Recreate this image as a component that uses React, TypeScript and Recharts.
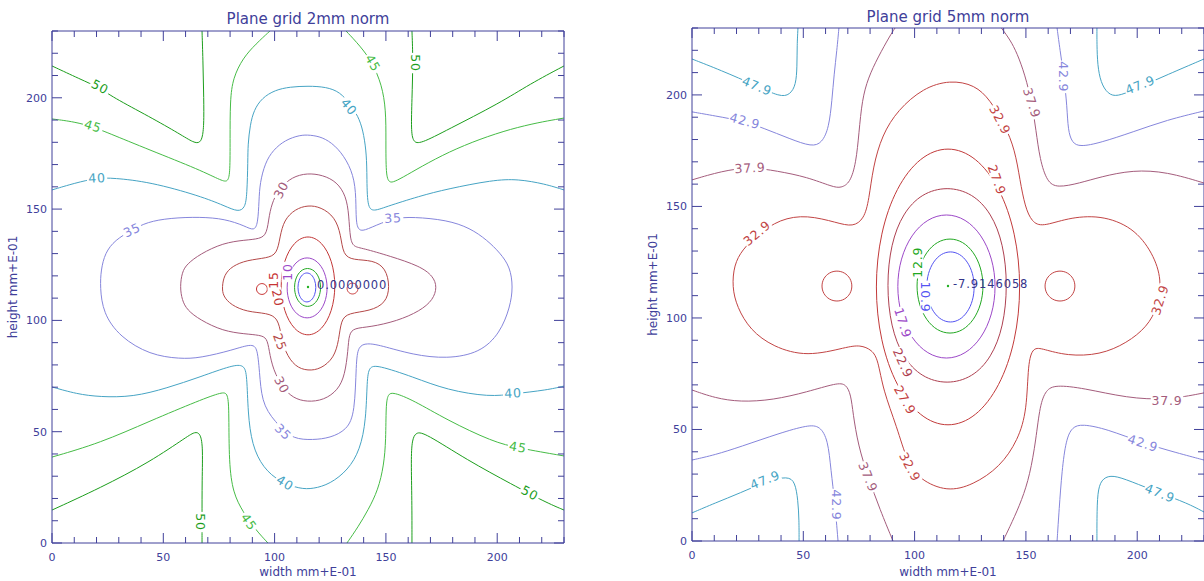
import React from "react"
import { ComposedChart, Line, Scatter, XAxis, YAxis, Label } from "recharts"

type Pt = number[]

// ---- 2mm grid contours, points as [width, height] in mm*E-01
const L50_TL = [[0, 214.3], [12.6, 208.4], [21.6, 204.4], [27, 200.4], [44, 191.4], [57.5, 183.7], [63.8, 179.7], [66.5, 179.7], [67.8, 182.8], [68.3, 190], [68.1, 203.5], [67.8, 217], [67.4, 230]]
const L50_TR = [[161.7, 230], [162.2, 217], [161.7, 199], [161.3, 185.5], [162.2, 180.1], [165.3, 179.2], [177.4, 185.5], [201.3, 197.7], [214.7, 206.2], [230, 214.3]]
const L50_BL = [[0, 14.8], [21.6, 24.7], [44, 36.4], [61.1, 48.1], [64.2, 49.9], [66.5, 49.4], [67.8, 44], [67.4, 28.3], [67.4, 10.3], [67.4, 0]]
const L50_BR = [[161.7, 0], [161.7, 19.3], [161.3, 37.3], [161.7, 46.3], [163.5, 49.9], [167.6, 49.4], [186.4, 37.3], [207.1, 26.1], [221.5, 18.4], [230, 14.8]]

const L45_TL = [[0, 190.5], [10.3, 189.2], [18.4, 186.9], [24.3, 184.6], [44, 176.5], [66.5, 167.6], [76.4, 162.6], [79.1, 162.2], [80, 166.7], [80, 181], [80, 199], [81.3, 208.9], [85.8, 217.9], [91.6, 224.2], [97.9, 230]]
const L45_TR = [[132.1, 230], [138.4, 223.3], [143.8, 216.1], [148.2, 205.8], [150, 194.5], [150, 181], [150, 165.3], [151.4, 161.7], [154.5, 162.2], [177.4, 176.1], [207.1, 186.9], [230, 190.9]]
const L45_BL = [[0, 38.6], [21.6, 44.9], [44, 54.8], [66.5, 64.2], [76.4, 67.8], [79.1, 67.4], [79.5, 58.4], [79.5, 35.9], [81.3, 22.5], [85.8, 13.9], [91.6, 5.8], [97, 0]]
const L45_BR = [[132.5, 0], [137.5, 7.2], [142, 14.8], [146.5, 23.8], [149.1, 35], [150, 46.3], [150, 62], [150.9, 66.9], [153.2, 67.8], [162.2, 64.2], [177.4, 55.3], [198.1, 45.4], [209.3, 42.7], [230, 39.1]]

const L40_TOP = [[0, 158.6], [10.3, 161.7], [20.2, 164], [27.4, 164], [44, 162.2], [66.5, 155.9], [77.7, 151.4], [83.6, 148.7], [86.7, 150.5], [87.6, 156.3], [88, 172], [88, 178.8], [89, 187.8], [90.7, 194.5], [94.3, 199.9], [100.2, 203.5], [106.9, 204.9], [115, 205.3], [123.1, 204.9], [129.4, 202.6], [133.9, 197.2], [137.5, 191.8], [139.7, 185.5], [141.1, 176.5], [141.5, 167.6], [141.5, 151.8], [143.8, 148.7], [149.6, 150.9], [165.3, 155.9], [177.4, 159], [198.1, 163.1], [209.3, 163.5], [221.5, 161.3], [230, 158.6]]
const L40_BOT = [[0, 70.1], [11.2, 66.9], [21.6, 65.6], [36.4, 65.6], [51.7, 69.6], [66.5, 74.6], [81.3, 80], [86.3, 80], [87.6, 75.5], [88, 58.4], [89.8, 44], [94.8, 33.7], [102.4, 27.4], [111.4, 24.3], [117.3, 24.3], [124.9, 26.5], [133, 32.8], [138.4, 41.8], [141.1, 55.3], [141.5, 73.2], [142.4, 79.1], [146, 80], [162.2, 74.6], [177.4, 68.7], [196.8, 65.6], [207.1, 67], [222.4, 68.7], [230, 70.5]]

const L35 = [[21.6, 115], [22, 122.6], [23.8, 130.3], [28.3, 136.1], [35.9, 140.6], [42.7, 144.2], [53, 146], [66.5, 146.5], [77.7, 145.6], [86.7, 142.4], [90.7, 140.2], [92.5, 143.3], [93, 154.1], [93.4, 161.7], [95.7, 170.7], [99.3, 176.5], [104.7, 181], [111.4, 183.3], [115.9, 183.3], [121.3, 182.4], [127.1, 178.8], [132.5, 172], [136.1, 163.1], [136.6, 151.8], [136.6, 142.9], [138.4, 139.7], [142.9, 141.5], [153.2, 146], [162.2, 146.5], [177.4, 145.1], [187.8, 141.5], [195.4, 136.1], [201.3, 130.3], [205.8, 124], [207.1, 115], [205.8, 106], [201.3, 94.3], [192.3, 85.4], [177.4, 82.7], [162.2, 84.5], [147.3, 88.9], [141.5, 89.8], [137.5, 88.5], [136.6, 80.9], [136.1, 58.4], [132.5, 50.8], [124.9, 47.2], [117.3, 46.3], [108.3, 46.7], [102.4, 52.1], [94.8, 61.1], [93.4, 73.2], [92.5, 86.7], [90.3, 89.8], [81.3, 86.7], [66.5, 83.1], [57.5, 82.7], [44, 84.5], [30.5, 92.5], [22.9, 103.3]]
const L30 = [[57.5, 115], [58.4, 121.7], [60.6, 125.3], [66.5, 129.8], [76.8, 134.8], [86.7, 136.1], [93.4, 136.6], [96.6, 138.8], [97.5, 147.3], [99.3, 154.1], [102.4, 159.5], [107.8, 164.4], [114.6, 166.2], [121.7, 165.3], [128, 162.2], [132.1, 155.9], [133.4, 147.3], [133.9, 136.1], [135.7, 133], [139.3, 132.5], [151.8, 128.9], [165.3, 124.4], [171.2, 119.9], [173, 115], [171.2, 109.2], [165.3, 104.2], [155, 99.7], [142.9, 97], [135.7, 96.6], [133.4, 93.9], [133, 86.7], [131.6, 75.5], [128.5, 68.7], [122.2, 64.2], [114.6, 63.3], [108.3, 65.1], [103.8, 69.6], [99.3, 77.7], [97.5, 86.7], [96.6, 92.1], [93.4, 93.4], [86.7, 93.9], [76.8, 95.2], [66.5, 100.2], [60.6, 104.7], [58.4, 109.2]]
const L25 = [[76.4, 115], [77.3, 120.4], [80.9, 124.4], [87.6, 127.1], [96.6, 128], [101.1, 129.8], [102.4, 137.5], [104.2, 145.1], [109.2, 150], [115, 151.8], [120.8, 150.9], [127.1, 146.5], [129.8, 138.4], [130.7, 129.4], [135.2, 127.1], [144.2, 127.1], [150, 123.5], [151.8, 115], [150, 107.8], [142.9, 104.2], [133, 103.3], [129.8, 100.2], [128.9, 91.2], [126.7, 83.1], [120.8, 78.2], [115, 77.3], [109.2, 79.1], [104.7, 85.8], [102.9, 93.4], [101.5, 101.1], [96.6, 103.3], [87.6, 103.8], [80.4, 106.9], [76.8, 111]]
const L20 = [[127.6, 115.5], [125.9, 127], [121.3, 135.4], [115, 138.5], [108.7, 135.4], [104.1, 127], [102.4, 115.5], [104.1, 104], [108.7, 95.6], [115, 92.5], [121.3, 95.6], [125.9, 104]]
const L15_A = [[97, 114.1], [96.2, 116], [94.3, 116.8], [92.4, 116], [91.6, 114.1], [92.4, 112.2], [94.3, 111.4], [96.2, 112.2]]
const L15_B = [[137.7, 114.3], [136.9, 116.2], [135, 117], [133.1, 116.2], [132.3, 114.3], [133.1, 112.4], [135, 111.6], [136.9, 112.4]]
const L10 = [[124, 114.6], [122.7, 121.7], [119.3, 126.8], [114.6, 128.7], [109.9, 126.8], [106.5, 121.7], [105.2, 114.6], [106.5, 107.5], [109.9, 102.4], [114.6, 100.5], [119.3, 102.4], [122.7, 107.5]]
const L5 = [[120.9, 114.8], [120.1, 119.3], [117.9, 122.5], [114.8, 123.7], [111.7, 122.5], [109.5, 119.3], [108.7, 114.8], [109.5, 110.4], [111.7, 107.1], [114.8, 105.9], [117.9, 107.1], [120.1, 110.4]]
const L0 = [[118.7, 114.8], [118.1, 118.2], [116.6, 120.7], [114.5, 121.6], [112.4, 120.7], [110.9, 118.2], [110.3, 114.8], [110.9, 111.4], [112.4, 108.9], [114.5, 108], [116.6, 108.9], [118.1, 111.4]]

// contour labels: [width, height, level, rotation]
const L_TAGS = [
  [21.6, 204.9, "50", 28], [163.1, 215.6, "50", 90], [66.9, 9.4, "50", 90], [214.7, 22.5, "50", 28],
  [18.4, 187.3, "45", 18], [144.2, 215.6, "45", 60], [88.5, 9.5, "45", 55], [209.3, 43.1, "45", 10],
  [20.2, 164, "40", -3], [133.4, 195.9, "40", 50], [104.7, 27, "40", 32], [207.1, 67.4, "40", -3],
  [35.9, 140.6, "35", -25], [153.2, 146, "35", -3], [103.8, 49.9, "35", 45],
  [102.9, 158.6, "30", -62], [103.3, 71, "30", 62],
  [102.4, 90.3, "25", 70], [101.5, 110.1, "20", 78], [99.3, 118.1, "15", -90], [105.6, 121.7, "10", -90],
]
const L_MIN = [115, 115, "0.0000000"]

// ---- 5mm grid contours
const R47_TL = [[0, 216.1], [12.6, 211.2], [29.2, 204], [39.5, 199.1], [44, 200], [46.7, 204.5], [47.2, 212.6], [47.2, 222.4], [47.6, 230]]
const R47_TR = [[181.9, 230], [181.9, 220.2], [182.4, 211.2], [184.2, 204], [187.8, 199.6], [192.3, 199.6], [201.3, 203.6], [213.4, 209], [230, 216.1]]
const R47_BL = [[0, 12.6], [10.3, 17], [21.6, 21.5], [33.7, 26.9], [43.1, 29.1], [46.3, 26.5], [47.6, 18.4], [48.1, 9.4], [48.1, 0]]
const R47_BR = [[181.9, 0], [181.9, 13.9], [182.4, 23.8], [184.6, 28.3], [189.1, 29.6], [196.8, 26.9], [210.2, 21.5], [222.4, 17], [230, 13]]

const R42_TL = [[0, 192.4], [10.3, 190.6], [22.9, 188.3], [31.9, 185.2], [44, 180.3], [53.9, 176.7], [58.4, 178.5], [61.5, 185.2], [62.9, 197.8], [63.8, 209], [65.1, 220.2], [66, 230]]
const R42_TR = [[164, 230], [165.3, 220.2], [167.1, 208.1], [168.5, 194.6], [168.9, 184.3], [170.7, 178.5], [174.3, 176.7], [183.3, 178.5], [198.1, 183.4], [213.4, 188.8], [230, 192.8]]
const R42_BL = [[0, 36.3], [10.3, 38.6], [21.6, 42.2], [39.5, 48.4], [52.1, 52], [57.5, 51.6], [61.1, 45.3], [62.4, 31.8], [64.2, 17], [65.6, 0]]
const R42_BR = [[164, 0], [164.9, 13.9], [166.2, 31.8], [168, 45.3], [170.7, 51.1], [175.2, 52.5], [186.4, 50.2], [202.6, 43.9], [217.9, 39.5], [230, 36.3]]

const R37_TL = [[0, 161.9], [13.5, 165.9], [26.1, 167.7], [38.2, 165.9], [51.7, 163.2], [63.3, 158.7], [66.9, 158.3], [71, 160.5], [73.7, 169.5], [75, 183], [76.4, 197.8], [79.1, 207.6], [83.6, 217], [88.9, 226.5], [91.2, 230]]
const R37_TR = [[139, 230], [142.9, 224.7], [146, 218.8], [149.6, 209], [152.7, 196.4], [154.5, 184.3], [156.3, 170.9], [159.5, 161], [164, 158.3], [174.3, 160.5], [183.3, 163.2], [198.1, 166.4], [213.4, 165.5], [230, 160.5]]
const R37_BL = [[0, 67.7], [10.3, 64.1], [21.6, 62.3], [36.4, 63.2], [51.7, 66.8], [65.1, 70.9], [69.2, 70.4], [71.4, 65.5], [72.3, 57.4], [74.6, 43], [79.1, 28.7], [84.5, 13.9], [90.3, 0]]
const R37_BR = [[139.7, 0], [143.8, 8.5], [148.2, 18.4], [151.8, 29.6], [154.5, 45.3], [156.3, 61], [159, 67.7], [163.1, 70], [175.7, 68.6], [195.4, 64.1], [213.4, 63.2], [230, 66.4]]

const R32 = [[18, 113.9], [18.9, 123.8], [22.5, 130.5], [29.2, 137.2], [39.5, 144.4], [51.7, 146.2], [65.1, 142.7], [72.3, 140.8], [77.3, 144.4], [79.5, 152.9], [81.3, 167.7], [85.4, 182.1], [92.5, 193.3], [103.8, 203.1], [115.9, 206.7], [127.1, 204.5], [133.9, 197.8], [140.6, 186.5], [145.1, 175.3], [147.3, 161.9], [149.6, 149.8], [152.7, 143], [157.2, 140.8], [168.5, 144.8], [183.3, 146.2], [198.1, 140.8], [207.1, 129.1], [211.1, 117], [209.3, 104.9], [204.4, 96], [195.4, 88.8], [183.3, 83.4], [168.5, 83], [157.7, 86.1], [153.2, 87], [150.9, 79.8], [150.5, 58.7], [146.5, 45.3], [138.4, 33.2], [126.2, 25.1], [114.6, 22], [102.4, 27.4], [96.6, 35.4], [92.1, 51.1], [85.8, 67.7], [83.6, 81.2], [80.9, 85.7], [75.5, 87.9], [69.6, 87], [51.7, 82.5], [36.4, 87], [26.1, 94.6], [20.2, 104.9]]
const R32_A = [[72.1, 114.3], [71.2, 117.8], [68.6, 120.4], [65.1, 121.3], [61.6, 120.4], [59, 117.8], [58.1, 114.3], [59, 110.8], [61.6, 108.2], [65.1, 107.3], [68.6, 108.2], [71.2, 110.8]]
const R32_B = [[172.3, 114.3], [171.4, 117.8], [168.8, 120.4], [165.3, 121.3], [161.8, 120.4], [159.2, 117.8], [158.3, 114.3], [159.2, 110.8], [161.8, 108.2], [165.3, 107.3], [168.8, 108.2], [171.4, 110.8]]
const R27 = [[148, 113.9], [145.5, 138.2], [138.3, 158.7], [127.6, 172.5], [115, 177.3], [102.4, 172.5], [91.7, 158.7], [84.5, 138.2], [82, 113.9], [84.5, 89.6], [91.7, 69.1], [102.4, 55.3], [115, 50.5], [127.6, 55.3], [138.3, 69.1], [145.5, 89.6]]
const R22 = [[141.8, 114.6], [139.9, 133.2], [134.5, 147], [126, 155.9], [114.6, 159], [103.2, 155.9], [94.7, 147], [89.3, 133.2], [87.4, 114.6], [89.3, 96], [94.7, 82.2], [103.2, 73.3], [114.6, 70.2], [126, 73.3], [134.5, 82.2], [139.9, 96]]
const R17 = [[136.7, 114.1], [135, 126.7], [130.1, 137.4], [122.9, 144.5], [114.3, 147], [105.7, 144.5], [98.5, 137.4], [93.6, 126.7], [91.9, 114.1], [93.6, 101.5], [98.5, 90.8], [105.7, 83.7], [114.3, 81.2], [122.9, 83.7], [130.1, 90.8], [135, 101.5]]
const R12 = [[131.1, 114.3], [129.9, 122.6], [126.6, 129.6], [121.7, 134.3], [115.9, 135.9], [110.1, 134.3], [105.2, 129.6], [101.9, 122.6], [100.7, 114.3], [101.9, 106], [105.2, 99], [110.1, 94.3], [115.9, 92.7], [121.7, 94.3], [126.6, 99], [129.9, 106]]
const R10 = [[127, 113.9], [126.2, 120.1], [123.8, 125.3], [120.3, 128.8], [116.1, 130], [111.9, 128.8], [108.4, 125.3], [106, 120.1], [105.2, 113.9], [106, 107.7], [108.4, 102.5], [111.9, 99], [116.1, 97.8], [120.3, 99], [123.8, 102.5], [126.2, 107.7]]

const R_TAGS = [
  [29.2, 204, "47.9", 22], [201.3, 204.5, "47.9", -22], [32.8, 27.4, "47.9", -22], [210.2, 21.5, "47.9", 22],
  [23.8, 188.3, "42.9", 15], [166.7, 208.1, "42.9", 90], [65.1, 16.1, "42.9", 90], [202.6, 43.9, "42.9", 18],
  [26.1, 167.3, "37.9", -3], [152.7, 196.4, "37.9", 72], [79.1, 28.7, "37.9", 68], [213.4, 63.2, "37.9", 0],
  [29.2, 138.1, "32.9", -40], [138.4, 188.8, "32.9", 62], [210.2, 108.1, "32.9", -72], [97.9, 33.2, "32.9", 62],
  [137, 161.9, "27.9", 70], [95.7, 63.2, "27.9", 60], [94.8, 79.8, "22.9", 65], [94.8, 97.8, "17.9", 72],
  [101.5, 125, "12.9", -90], [105, 109.4, "10.9", 90],
]
const R_MIN = [115, 114.3, "-7.9146058"]

const TICKS = [0, 10, 20, 30, 40, 50, 60, 70, 80, 90, 100, 110, 120, 130, 140, 150, 160, 170, 180, 190, 200, 210, 220, 230]

const L_COLORS: Record<string, string> = {
  "50": "#1c9e1c", "45": "#46bc46", "40": "#46a4c4", "35": "#8686dc", "30": "#a45c7c",
  "25": "#b44848", "20": "#c23636", "15": "#c83434", "10": "#9c48c8", "5": "#22a822", "0": "#5454f2",
}
const R_COLORS: Record<string, string> = {
  "47.9": "#46a4c4", "42.9": "#8686dc", "37.9": "#a45c7c", "32.9": "#c24444", "27.9": "#c23a3a",
  "22.9": "#ae4050", "17.9": "#9c48c8", "12.9": "#22a822", "10.9": "#5454f2",
}

const L_CURVES: [Pt[], string, boolean][] = [
  [L50_TL, "50", false], [L50_TR, "50", false], [L50_BL, "50", false], [L50_BR, "50", false],
  [L45_TL, "45", false], [L45_TR, "45", false], [L45_BL, "45", false], [L45_BR, "45", false],
  [L40_TOP, "40", false], [L40_BOT, "40", false],
  [L35, "35", true], [L30, "30", true], [L25, "25", true], [L20, "20", true],
  [L15_A, "15", true], [L15_B, "15", true], [L10, "10", true], [L5, "5", true], [L0, "0", true],
]
const R_CURVES: [Pt[], string, boolean][] = [
  [R47_TL, "47.9", false], [R47_TR, "47.9", false], [R47_BL, "47.9", false], [R47_BR, "47.9", false],
  [R42_TL, "42.9", false], [R42_TR, "42.9", false], [R42_BL, "42.9", false], [R42_BR, "42.9", false],
  [R37_TL, "37.9", false], [R37_TR, "37.9", false], [R37_BL, "37.9", false], [R37_BR, "37.9", false],
  [R32, "32.9", true], [R32_A, "32.9", true], [R32_B, "32.9", true], [R27, "27.9", true],
  [R22, "22.9", true], [R17, "17.9", true], [R12, "12.9", true], [R10, "10.9", true],
]

const AXIS = "#40409a"
const FONT = "DejaVu Sans, sans-serif"
const W = 600
const H = 581

const rows = (pts: Pt[]) => pts.map(([x, y]) => ({ x, y }))

// inward ticks: every 10 units, longer with a label every 50
const BottomTick = (p: any) => {
  const v = p.payload.value
  const major = v % 50 === 0
  return (
    <g>
      <line x1={p.x} y1={p.y} x2={p.x} y2={p.y - (major ? 10 : 6)} stroke={AXIS} />
      {major && (
        <text x={p.x} y={p.y + 18} textAnchor="middle" fontSize={11} fontFamily={FONT} fill={AXIS}>{v}</text>
      )}
    </g>
  )
}
const TopTick = (p: any) => {
  const major = p.payload.value % 50 === 0
  return <line x1={p.x} y1={p.y} x2={p.x} y2={p.y + (major ? 10 : 6)} stroke={AXIS} />
}
const LeftTick = (p: any) => {
  const v = p.payload.value
  const major = v % 50 === 0
  return (
    <g>
      <line x1={p.x} y1={p.y} x2={p.x + (major ? 10 : 6)} y2={p.y} stroke={AXIS} />
      {major && (
        <text x={p.x - 5} y={p.y + 4} textAnchor="end" fontSize={11} fontFamily={FONT} fill={AXIS}>{v}</text>
      )}
    </g>
  )
}
const RightTick = (p: any) => {
  const major = p.payload.value % 50 === 0
  return <line x1={p.x} y1={p.y} x2={p.x - (major ? 10 : 6)} y2={p.y} stroke={AXIS} />
}

// level label sitting in a gap of its contour
const renderTag = (p: any) => {
  const { cx, cy, payload } = p
  const t: string = payload.text
  const w = t.replace(".", "").length * 8.2 + (t.includes(".") ? 4 : 0) + 4
  return (
    <g transform={`translate(${cx},${cy}) rotate(${payload.angle})`}>
      <rect x={-w / 2} y={-5.5} width={w} height={11} fill="#fff" />
      <text x={0} y={0} dy="0.36em" textAnchor="middle" fontSize={12.5} letterSpacing={0.8} fontFamily={FONT} fill={payload.color}>
        {t}
      </text>
    </g>
  )
}

function Panel(props: {
  left: number
  top: number
  bottom: number
  titleY: number
  title: string
  curves: [Pt[], string, boolean][]
  tags: any[][]
  colors: Record<string, string>
  minimum: any[]
  minDx: number
}) {
  const { left, top, bottom, titleY, title, curves, tags, colors, minimum, minDx } = props
  const midY = (top + H - bottom) / 2
  const tagRows = tags.map(([x, y, text, angle]) => ({ x, y, text, angle, color: colors[text] }))
  const minRow = [{ x: minimum[0], y: minimum[1], text: minimum[2] }]
  const renderMin = (p: any) => (
    <g>
      <circle cx={p.cx} cy={p.cy} r={1.2} fill="#22b022" />
      <text x={p.cx + minDx} y={p.cy + 1.5} fontSize={11.5} letterSpacing={0.9} fontFamily={FONT} fill="#34348a">
        {p.payload.text}
      </text>
    </g>
  )
  return (
    <div style={{ position: "absolute", left, top: 0 }}>
      <ComposedChart width={W} height={H} margin={{ top: 0, right: 0, bottom: 0, left: 0 }}>
        <XAxis
          type="number" dataKey="x" domain={[0, 230]} ticks={TICKS} interval={0} allowDataOverflow
          height={bottom} tickSize={0} tickMargin={0} tickLine={false} axisLine={{ stroke: AXIS }} tick={BottomTick}
        >
          <Label
            content={() => (
              <text x={308} y={H - 5} textAnchor="middle" fontSize={12} fontFamily={FONT} fill={AXIS}>width mm+E-01</text>
            )}
          />
        </XAxis>
        <XAxis
          xAxisId="top" orientation="top" type="number" dataKey="x" domain={[0, 230]} ticks={TICKS} interval={0}
          allowDataOverflow height={top} tickSize={0} tickMargin={0} tickLine={false} axisLine={{ stroke: AXIS }} tick={TopTick}
        >
          <Label
            content={() => (
              <text x={308} y={titleY} textAnchor="middle" fontSize={15} fontFamily={FONT} fill={AXIS}>{title}</text>
            )}
          />
        </XAxis>
        <YAxis
          type="number" dataKey="y" domain={[0, 230]} ticks={TICKS} interval={0} allowDataOverflow
          width={52} tickSize={0} tickMargin={0} tickLine={false} axisLine={{ stroke: AXIS }} tick={LeftTick}
        >
          <Label
            content={() => (
              <text x={17} y={midY} transform={`rotate(-90 17 ${midY})`} textAnchor="middle" fontSize={12} fontFamily={FONT} fill={AXIS}>
                height mm+E-01
              </text>
            )}
          />
        </YAxis>
        <YAxis
          yAxisId="right" orientation="right" type="number" dataKey="y" domain={[0, 230]} ticks={TICKS} interval={0}
          allowDataOverflow width={36} tickSize={0} tickMargin={0} tickLine={false} axisLine={{ stroke: AXIS }} tick={RightTick}
        />
        {curves.map(([pts, level, closed], i) => (
          <Line
            key={i}
            data={rows(pts)}
            dataKey="y"
            type={closed ? "basisClosed" : "basis"}
            stroke={colors[level]}
            strokeWidth={1}
            dot={false}
            activeDot={false}
            isAnimationActive={false}
          />
        ))}
        <Scatter data={tagRows} shape={renderTag} isAnimationActive={false} />
        <Scatter data={minRow} shape={renderMin} isAnimationActive={false} />
      </ComposedChart>
    </div>
  )
}

export default function App() {
  return (
    <div style={{ position: "fixed", left: 0, top: 0, width: 1204, height: 581, background: "#fff", overflow: "hidden" }}>
      <Panel
        left={0} top={31} bottom={38} titleY={24} title="Plane grid 2mm norm"
        curves={L_CURVES} tags={L_TAGS} colors={L_COLORS} minimum={L_MIN} minDx={9}
      />
      <Panel
        left={640} top={28} bottom={40} titleY={22} title="Plane grid 5mm norm"
        curves={R_CURVES} tags={R_TAGS} colors={R_COLORS} minimum={R_MIN} minDx={5}
      />
    </div>
  )
}
